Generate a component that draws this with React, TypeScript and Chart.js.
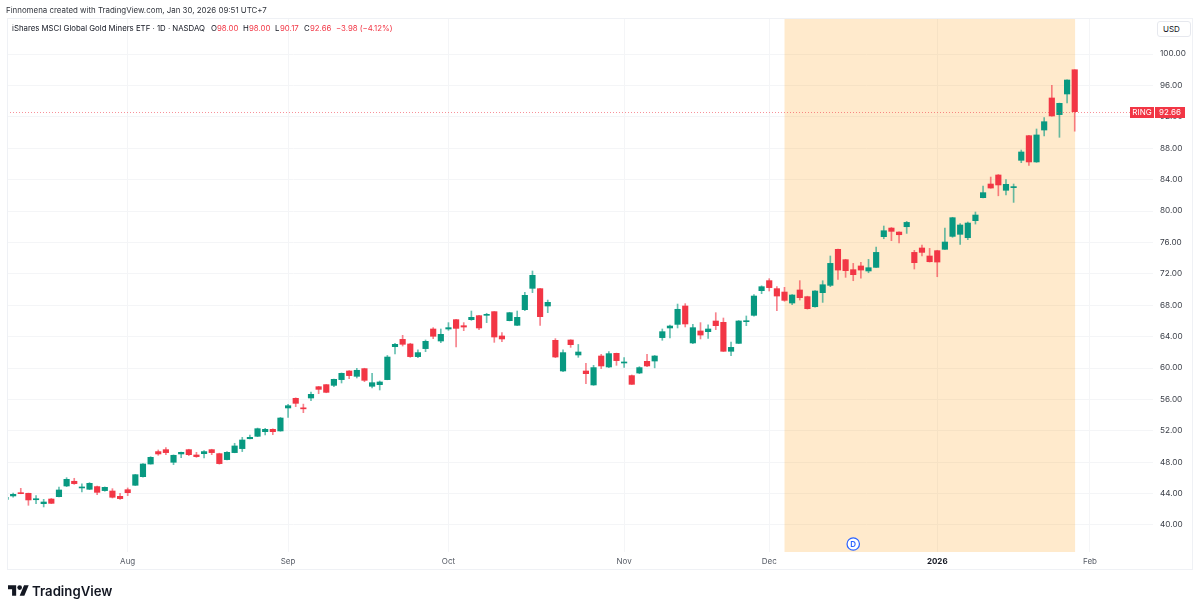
import React, { useEffect, useRef } from "react";
import { Chart, registerables } from "chart.js";

Chart.register(...registerables);

const opens = [
  43.27,43.70,44.08,44.04,43.22,42.72,43.31,43.61,44.97,45.57,
  44.72,44.55,44.89,44.38,44.33,43.65,44.50,45.06,46.16,47.77,
  49.35,49.60,47.99,49.05,49.60,48.92,49.09,49.60,49.09,48.33,
  49.22,49.73,50.99,51.30,51.89,52.19,51.98,54.91,56.14,54.87,
  56.18,57.62,57.88,57.79,58.52,59.62,58.94,59.92,57.67,57.88,
  58.52,62.72,63.65,63.06,61.45,62.47,64.97,63.44,64.97,66.16,
  65.39,66.16,66.67,66.71,67.18,64.08,66.03,65.44,67.43,70.15,
  70.11,67.90,63.53,59.62,63.57,61.66,59.62,57.84,61.53,60.13,
  61.87,60.64,59.03,59.36,60.85,60.89,63.87,65.10,65.56,67.90,
  63.19,64.72,64.63,65.99,65.82,62.13,63.14,65.90,66.71,69.85,
  71.13,70.11,69.68,68.28,69.94,69.09,67.81,69.60,70.53,75.12,
  73.80,72.53,73.00,72.36,72.82,76.73,77.83,77.32,78.00,74.73,
  75.29,74.27,74.95,75.12,76.77,77.03,76.60,78.77,81.70,83.44,
  84.59,82.64,82.98,86.46,89.60,86.25,90.32,94.40,92.28,94.91,
  98.00,
];
const closes = [
  43.52,43.91,43.99,43.19,43.30,42.93,42.76,44.46,45.82,45.27,
  44.84,45.31,44.16,44.80,43.53,43.36,44.12,46.41,47.77,48.62,
  49.05,49.22,48.88,49.26,48.96,48.71,49.35,49.22,47.82,49.26,
  50.07,50.83,51.17,52.27,52.19,51.89,53.63,55.20,55.50,54.80,
  56.65,57.28,56.90,58.56,59.32,59.03,59.71,58.43,58.13,58.22,
  61.40,63.02,63.02,61.45,61.96,63.40,64.04,64.29,65.14,65.05,
  65.22,66.46,65.10,66.84,63.95,63.70,67.05,66.46,69.26,71.81,
  66.54,68.37,61.40,61.96,62.97,62.04,59.28,60.05,60.26,61.83,
  60.94,60.70,57.92,60.05,60.26,61.53,64.63,65.35,67.48,65.61,
  65.14,64.20,64.97,65.39,62.13,62.63,65.99,65.99,69.17,70.36,
  70.24,69.17,68.62,69.30,68.96,67.56,69.81,70.61,73.33,72.48,
  72.40,71.89,72.48,72.78,74.73,77.49,77.41,76.98,78.55,73.42,
  74.73,73.54,73.50,76.05,79.15,78.22,78.47,79.49,82.34,82.93,
  83.32,83.40,83.10,87.52,86.25,89.69,91.38,92.11,93.72,96.69,
  92.66,
];
const highs = [
  43.6,44.08,44.67,44.06,43.74,43.27,43.38,44.84,46.03,45.95,
  45.23,45.4,44.97,44.85,44.63,44.04,44.72,46.45,47.83,48.7,
  49.56,49.85,48.93,49.3,49.65,49.26,49.47,49.65,49.15,49.35,
  50.41,51.17,51.47,52.35,52.3,52.25,53.7,55.37,56.2,55.4,
  56.94,57.66,57.9,58.6,59.37,59.67,59.96,59.97,59.32,58.35,
  61.6,63.14,64.16,63.15,62.3,63.57,65.14,64.97,65.78,66.2,
  65.78,67.26,66.7,66.97,67.2,64.5,67.1,67.26,69.64,72.36,
  70.15,68.66,63.74,62.3,63.6,63.0,60.6,60.34,61.74,62.08,
  61.9,61.32,59.11,60.17,61.74,61.6,64.97,65.48,68.15,68.2,
  65.56,65.78,65.5,67.05,66.37,63.31,66.05,66.63,69.37,70.47,
  71.38,70.36,70.28,69.34,71.13,69.15,69.85,71.12,74.27,75.15,
  73.85,73.33,73.46,73.84,75.41,78.09,77.9,77.36,78.68,74.99,
  75.67,75.24,75.0,77.83,79.2,78.39,78.6,79.87,83.19,84.33,
  84.65,84.0,83.44,87.77,89.65,90.45,91.9,96.01,93.75,96.72,
  98.0,
];
const lows = [
  43.2,43.53,43.98,42.51,42.72,42.3,42.72,43.58,44.88,45.18,
  44.21,44.5,43.87,44.3,43.44,43.27,43.74,45.03,46.1,47.75,
  48.88,48.96,47.69,48.58,48.84,48.62,48.54,48.96,47.75,48.3,
  49.2,49.35,50.97,51.25,51.47,51.51,51.95,53.72,55.08,54.31,
  55.84,56.73,56.85,57.62,58.09,58.64,58.73,58.26,57.45,57.2,
  58.5,61.79,62.8,61.36,61.32,62.08,63.74,63.23,64.8,62.68,
  64.76,66.07,64.89,65.78,63.27,63.36,66.0,65.4,67.3,69.6,
  65.44,67.05,61.32,59.53,62.63,61.36,58.01,57.79,59.92,60.05,
  60.34,60.09,57.9,59.28,60.17,60.02,63.53,63.82,65.1,65.23,
  63.1,63.7,63.78,64.89,62.1,61.57,63.1,65.39,66.6,69.47,
  69.81,67.31,68.5,68.07,68.66,67.5,67.75,68.36,70.36,71.29,
  71.55,71.12,71.46,72.14,72.8,76.47,76.22,75.92,77.15,72.61,
  74.27,73.5,71.63,75.1,76.65,75.75,76.35,78.34,81.68,82.9,
  81.94,82.04,81.1,86.16,85.8,86.2,89.56,92.08,89.39,93.76,
  90.17,
];

const priceTicks = [40,44,48,52,56,60,64,68,72,76,80,84,88,92,96,100];
const monthTickIndex = [16,37,58,81,100,122,142];
const monthTickLabels = ["Aug","Sep","Oct","Nov","Dec","2026","Feb"];
const lastPrice = 92.66;
const shadeFrom = 102;
const shadeTo = 140.05;
const dividendIndex = 111;
const xRange = [0.196, 150.25];
const yRange = [36.56, 104.59];

const FONT = "Inter, 'Noto Sans', sans-serif";
const GREEN = "#089981";
const RED = "#F23645";
const GREEN_WICK = "rgba(8,153,129,0.62)";
const RED_WICK = "rgba(242,54,69,0.62)";

const backdrop = {
  id: "backdrop",
  beforeDatasetsDraw(chart: any) {
    const { ctx, chartArea, scales } = chart;
    const x0 = scales.x.getPixelForValue(shadeFrom);
    const x1 = scales.x.getPixelForValue(shadeTo);
    ctx.save();
    ctx.fillStyle = "rgba(255,152,0,0.2)";
    ctx.fillRect(x0, chartArea.top, x1 - x0, chartArea.bottom - chartArea.top);
    ctx.restore();
  },
  afterDatasetsDraw(chart: any) {
    const { ctx, chartArea, scales } = chart;
    const y = scales.y.getPixelForValue(lastPrice);
    ctx.save();
    ctx.strokeStyle = "rgba(242,54,69,0.55)";
    ctx.lineWidth = 1;
    ctx.setLineDash([1, 2]);
    ctx.beginPath();
    ctx.moveTo(chartArea.left, Math.round(y) + 0.5);
    ctx.lineTo(1130, Math.round(y) + 0.5);
    ctx.stroke();
    ctx.setLineDash([]);

    const cx = scales.x.getPixelForValue(dividendIndex);
    const cy = 544;
    ctx.fillStyle = "#fff";
    ctx.strokeStyle = "#2962FF";
    ctx.lineWidth = 1.2;
    ctx.beginPath();
    ctx.arc(cx, cy, 6.2, 0, Math.PI * 2);
    ctx.fill();
    ctx.stroke();
    ctx.fillStyle = "#2962FF";
    ctx.font = `600 8px ${FONT}`;
    ctx.textAlign = "center";
    ctx.textBaseline = "middle";
    ctx.fillText("D", cx, cy + 0.5);

    const top = Math.round(y) - 5;
    ctx.fillStyle = RED;
    ctx.fillRect(1130, top, 24, 11);
    ctx.fillRect(1155, top, 30, 11);
    ctx.fillStyle = "#fff";
    ctx.font = `400 8px ${FONT}`;
    ctx.fillText("RING", 1142, top + 5.8);
    ctx.fillText(lastPrice.toFixed(2), 1170, top + 5.8);
    ctx.restore();
  },
};

const legendParts: [string, number, string][] = [
  ["iShares MSCI Global Gold Miners ETF · 1D · NASDAQ", 12, "#131722"],
  ["O", 211, "#131722"],
  ["98.00", 217, RED],
  ["H", 243, "#131722"],
  ["98.00", 249, RED],
  ["L", 275, "#131722"],
  ["90.17", 280, RED],
  ["C", 304, "#131722"],
  ["92.66", 310, RED],
  ["−3.98 (−4.12%)", 336, RED],
];

export default function App() {
  const ref = useRef<HTMLCanvasElement | null>(null);
  useEffect(() => {
    const idx = opens.map((_, i) => i);
    const up = idx.map((i) => closes[i] >= opens[i]);
    const chart = new Chart(ref.current as HTMLCanvasElement, {
      type: "bar",
      data: {
        datasets: [
          {
            label: "wick",
            data: idx.map((i) => ({ x: i, y: [lows[i], highs[i]] })) as any,
            backgroundColor: up.map((u) => (u ? GREEN_WICK : RED_WICK)),
            barThickness: 1,
            grouped: false,
            order: 2,
          } as any,
          {
            label: "body",
            data: idx.map((i) => ({ x: i, y: [opens[i], closes[i]] })) as any,
            backgroundColor: up.map((u) => (u ? GREEN : RED)),
            barThickness: 5.5,
            minBarLength: 1,
            grouped: false,
            order: 1,
          } as any,
        ],
      },
      options: {
        animation: false,
        responsive: false,
        devicePixelRatio: 1,
        layout: { padding: { left: 7, top: 18, right: 0, bottom: 40 } },
        plugins: { legend: { display: false }, tooltip: { enabled: false } },
        scales: {
          x: {
            type: "linear",
            offset: false,
            min: xRange[0],
            max: xRange[1],
            afterBuildTicks: (s: any) => {
              s.ticks = monthTickIndex.map((value) => ({ value }));
            },
            afterFit: (s: any) => {
              s.height = 18;
            },
            border: { display: false },
            grid: { offset: false, color: "#F4F5F7", drawTicks: false, lineWidth: 1 },
            ticks: {
              autoSkip: false,
              maxRotation: 0,
              padding: 5,
              callback: (v: any) => monthTickLabels[monthTickIndex.indexOf(Number(v))] ?? "",
              color: (c: any) => (c.index === 5 ? "#131722" : "#555a64"),
              font: (c: any) => ({
                family: FONT,
                size: 8,
                weight: c.index === 5 ? 700 : 400,
              }),
            },
          },
          y: {
            type: "linear",
            position: "right",
            min: yRange[0],
            max: yRange[1],
            afterBuildTicks: (s: any) => {
              s.ticks = priceTicks.map((value) => ({ value }));
            },
            afterFit: (s: any) => {
              s.width = 47;
            },
            border: { display: false },
            grid: { color: "#F4F5F7", drawTicks: false, lineWidth: 1 },
            ticks: {
              autoSkip: false,
              padding: 7,
              callback: (v: any) => Number(v).toFixed(2),
              color: "#3b3f48",
              font: { family: FONT, size: 8.2 },
            },
          },
        },
      } as any,
      plugins: [backdrop],
    });
    return () => chart.destroy();
  }, []);

  const abs: React.CSSProperties = { position: "absolute", whiteSpace: "nowrap", fontFamily: FONT };
  return (
    <div style={{ position: "absolute", left: 0, top: 0, width: 1200, height: 610, background: "#fff", overflow: "hidden" }}>
      <canvas ref={ref} width={1200} height={610} style={{ position: "absolute", left: 0, top: 0, display: "block" }} />
      <div style={{ position: "absolute", left: 7, top: 18, width: 1186, height: 552, boxSizing: "border-box", border: "1px solid #EFF1F5", pointerEvents: "none" }} />
      <div style={{ ...abs, left: 6, top: 4, fontSize: 7.9, lineHeight: "12px", color: "#30343c" }}>
        Finnomena created with TradingView.com, Jan 30, 2026 09:51 UTC+7
      </div>
      {legendParts.map(([text, left, color], i) => (
        <span key={i} style={{ ...abs, left, top: 22, fontSize: 7.8, lineHeight: "12px", color }}>
          {text}
        </span>
      ))}
      <div style={{ position: "absolute", left: 1157, top: 21, width: 34, height: 16, boxSizing: "border-box", border: "1px solid #E6E8EE", borderRadius: 3, background: "#fff" }} />
      <div style={{ ...abs, left: 1163, top: 23, fontSize: 8, lineHeight: "12px", color: "#131722" }}>USD</div>
      <svg viewBox="0 0 36 18" width="21" height="11" style={{ position: "absolute", left: 7.5, top: 585 }}>
        <path d="M14 18H7V7H0V0h14v18zM28 18h-8l7.5-18h8L28 18z" fill="#131722" />
        <circle cx="20" cy="4" r="4" fill="#131722" />
      </svg>
      <div style={{ ...abs, left: 32, top: 582, fontSize: 13.2, lineHeight: "18px", fontWeight: 600, color: "#131722" }}>TradingView</div>
    </div>
  );
}
